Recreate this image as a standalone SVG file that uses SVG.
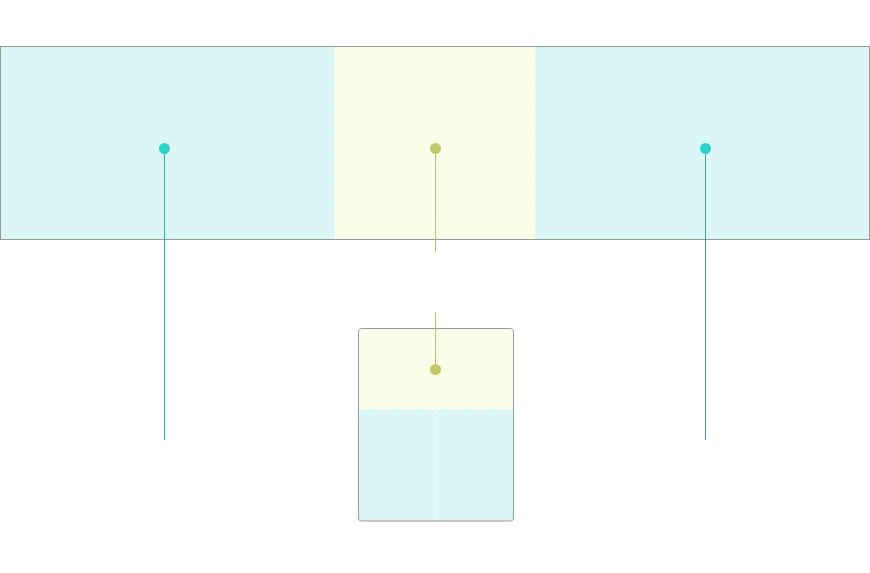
<svg xmlns="http://www.w3.org/2000/svg" width="870" height="573" viewBox="0 0 870 573">
<style>
.cyan{fill:#daf7f6}
.yel{fill:#fbfde9}
.frame{fill:none;stroke:#999;stroke-width:1}
.dash{stroke:#fff;stroke-width:1;stroke-dasharray:3 3;fill:none}
.dotc{fill:#2ad4cc}
.doty{fill:#bfca6a}
</style>
<rect width="870" height="573" fill="#fff"/>
<g id="top-panel">
<rect class="cyan" x="0.5" y="46.5" width="335" height="193"/>
<rect class="yel" x="335" y="46.5" width="200" height="193"/>
<rect class="cyan" x="535" y="46.5" width="334.5" height="193"/>
<line class="dash" x1="335" y1="47" x2="335" y2="239"/>
<line class="dash" x1="535" y1="47" x2="535" y2="239"/>
<rect class="frame" x="0.5" y="46.5" width="869" height="193"/>
</g>
<g id="bottom-box">
<rect class="yel" x="358.5" y="328.5" width="155" height="81" rx="3"/>
<rect class="cyan" x="358.5" y="409" width="155" height="112" rx="3"/>
<rect class="yel" x="358.5" y="340" width="155" height="69"/>
<line class="dash" x1="359" y1="409" x2="513" y2="409"/>
<line class="dash" x1="436" y1="410" x2="436" y2="520"/>
<rect class="frame" x="358.5" y="328.5" width="155" height="192.5" rx="3"/>
</g>
<g id="connectors">
<line x1="164.5" y1="148" x2="164.5" y2="440" stroke="#2bb3aa" stroke-width="1"/>
<line x1="435.5" y1="148" x2="435.5" y2="252" stroke="#b5c26a" stroke-width="1"/>
<line x1="705.5" y1="148" x2="705.5" y2="440" stroke="#4a9e9a" stroke-width="1"/>
<line x1="435.5" y1="313" x2="435.5" y2="369" stroke="#b5c26a" stroke-width="1"/>
</g>
<g id="dots">
<circle class="dotc" cx="164.5" cy="148.5" r="5.5"/>
<circle class="doty" cx="435.5" cy="148.5" r="5.5"/>
<circle class="dotc" cx="705.5" cy="148.5" r="5.5"/>
<circle class="doty" cx="435.5" cy="369.5" r="5.5"/>
</g>
</svg>
